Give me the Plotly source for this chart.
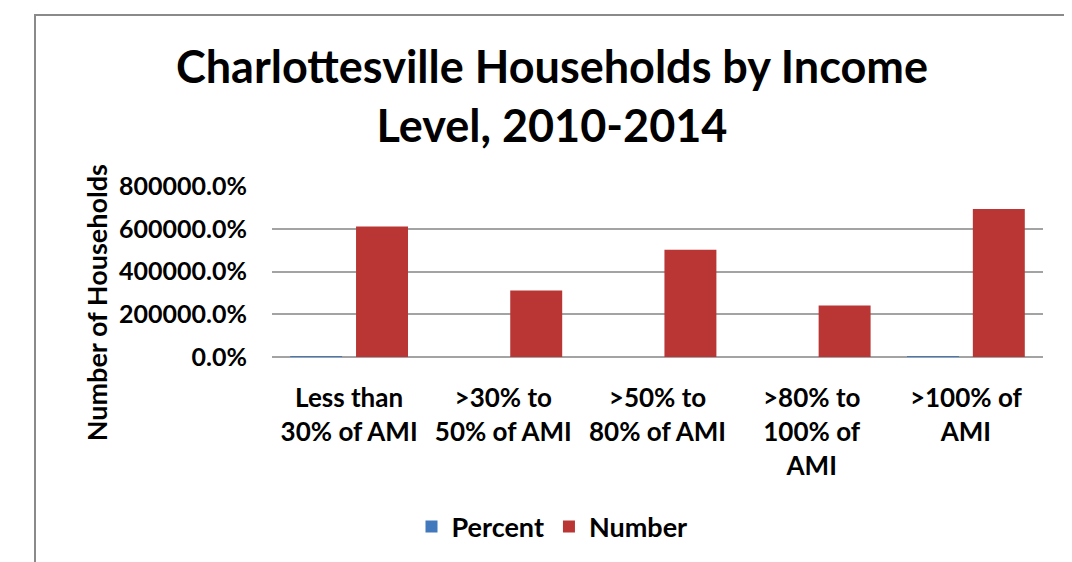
import plotly.graph_objects as go

categories = ["Less than<br>30% of AMI", ">30% to<br>50% of AMI", ">50% to<br>80% of AMI",
              ">80% to<br>100% of<br>AMI", ">100% of<br>AMI"]
percent_values = [0.27, 0.14, 0.22, 0.11, 0.31]
number_values = [6110, 3110, 5015, 2405, 6925]
y_ticks = [0, 2000, 4000, 6000, 8000]

OFF = 8  # page body margin
W, H = 1072 - OFF, 562 - OFF
L, R, T, B = 272 - OFF, 1043 - OFF, 186 - OFF, 358 - OFF  # plot area in figure pixels
pw, ph = R - L, B - T

def px_x(x):
    return (x - OFF - L) / pw

def px_y(y):
    return (B - (y - OFF)) / ph

FONT = "Lato"
bar_w = 0.337

fig = go.Figure()
fig.add_trace(go.Bar(
    name="Percent", x=categories, y=percent_values,
    marker=dict(color="#4279bd", line=dict(width=0)),
    width=bar_w, offset=-0.382,
))
fig.add_trace(go.Bar(
    name="Number", x=categories, y=number_values,
    marker=dict(color="#b93634", line=dict(width=0)),
    width=bar_w, offset=0.045,
))

fig.update_layout(
    width=W, height=H,
    margin=dict(l=L, r=W - R, t=T, b=H - B, pad=0),
    paper_bgcolor="white", plot_bgcolor="white",
    barmode="group",
    font=dict(family=FONT, color="black", weight="bold"),
    title=dict(
        text="Charlottesville Households by Income<br>Level, 2010-2014",
        x=(552 - OFF) / W, xanchor="center", y=1 - (83 - OFF) / H, yanchor="middle",
        yref="container", xref="container",
        font=dict(family=FONT, size=45, color="black", weight="bold"),
    ),
    showlegend=True,
    legend=dict(
        orientation="h", x=px_x(552), xanchor="center", y=px_y(527), yanchor="middle",
        font=dict(family=FONT, size=27, color="black", weight="bold"),
        itemwidth=30, traceorder="normal",
    ),
    xaxis=dict(
        showgrid=False, showline=False, zeroline=False, ticks="",
        tickfont=dict(family=FONT, size=26, color="black", weight="bold"),
        ticklabelstandoff=23, tickangle=0,
    ),
    yaxis=dict(
        range=[0, 8000], tickvals=y_ticks, tickformat=".1%",
        showgrid=True, gridcolor="#a3a3a3", gridwidth=1.6,
        zeroline=True, zerolinecolor="#a3a3a3", zerolinewidth=1.6,
        showline=False, ticks="",
        tickfont=dict(family=FONT, size=25, color="black", weight="bold"),
        ticklabelstandoff=24,
    ),
    annotations=[dict(
        text="Number of Households", textangle=-90,
        xref="paper", yref="paper", x=px_x(96), y=px_y(304),
        xanchor="center", yanchor="middle", showarrow=False,
        font=dict(family=FONT, size=27, color="black", weight="bold"),
    )],
    shapes=[dict(
        type="rect", xref="paper", yref="paper",
        x0=px_x(35), x1=px_x(1069.5), y0=px_y(600), y1=px_y(14),
        line=dict(color="#8a8a8a", width=2), fillcolor="rgba(0,0,0,0)", layer="below",
    )],
)

fig.write_html("out.html")
